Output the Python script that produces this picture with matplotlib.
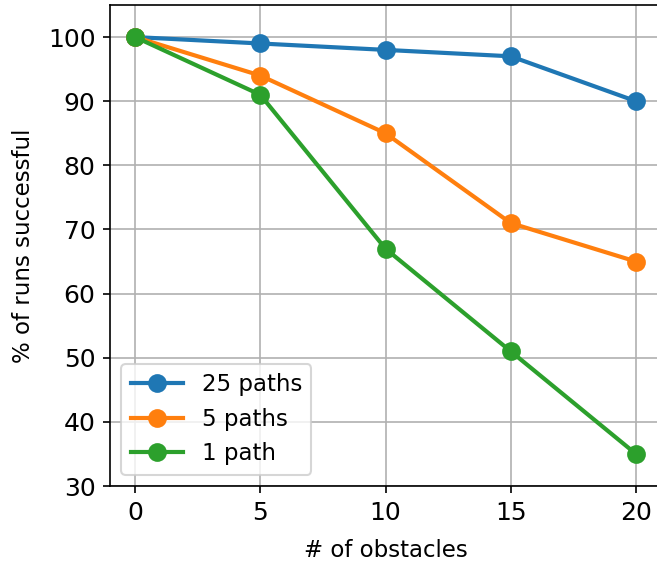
import numpy as np
import matplotlib
matplotlib.use("Agg")
import matplotlib.pyplot as plt

obstacles = [0, 5, 10, 15, 20]
paths_25 = [100, 99, 98, 97, 90]
paths_5 = [100, 94, 85, 71, 65]
paths_1 = [100, 91, 67, 51, 35]

fig = plt.figure(figsize=(6.57/1.5, 5.64/1.5), dpi=150)
ax = fig.add_axes([110/657, 78/564, 551/657, 481/564])

ax.plot(obstacles, paths_25, marker='o', markersize=8, linewidth=2, label='25 paths')
ax.plot(obstacles, paths_5, marker='o', markersize=8, linewidth=2, label='5 paths')
ax.plot(obstacles, paths_1, marker='o', markersize=8, linewidth=2, label='1 path')

ax.set_xlim(-1, 21)
ax.set_ylim(30, 105)
ax.set_xticks([0, 5, 10, 15, 20])
ax.set_yticks([30, 40, 50, 60, 70, 80, 90, 100])
ax.tick_params(labelsize=12)
ax.grid(True)
ax.set_axisbelow(True)

ax.set_xlabel('# of obstacles', fontsize=11, labelpad=7)
ax.set_ylabel('% of runs successful', fontsize=11, labelpad=6)
ax.legend(loc='lower left', fontsize=11, handlelength=2.3)

fig.savefig('out.png', dpi=150)
